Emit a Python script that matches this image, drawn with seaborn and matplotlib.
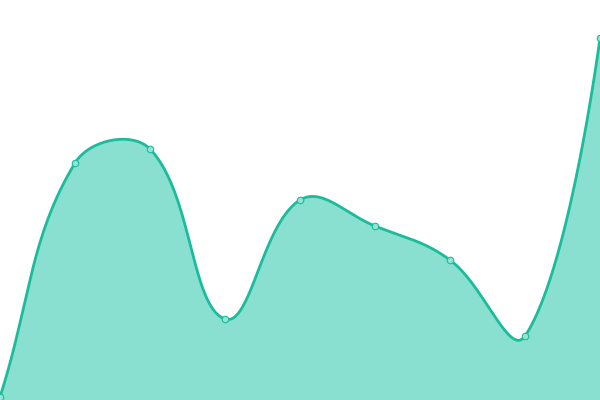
import numpy as np
import pandas as pd
import seaborn as sns
import matplotlib
matplotlib.use("Agg")
import matplotlib.pyplot as plt

# values (axis 0..400, one point per step)
steps = [0, 1, 2, 3, 4, 5, 6, 7, 8]
values = [3, 237, 251, 81, 200, 174, 140, 64, 362]

LINE = "#1abc9c"
FILL = "#89e0d0"


def smooth_path(xs, ys, smooth=0.5, n=60, sx=75.0, sy=1.0):
    # echarts-like bezier smoothing, distances measured in pixel space
    px = np.asarray(xs, float) * sx
    py = np.asarray(ys, float) * sy
    k = len(px)
    cp_in, cp_out = [], []
    for i in range(k):
        prev_i = max(i - 1, 0)
        next_i = min(i + 1, k - 1)
        if i == k - 1:
            v = np.zeros(2)
        else:
            v = np.array([px[next_i] - px[prev_i], py[next_i] - py[prev_i]]) * smooth
        d0 = np.hypot(px[i] - px[prev_i], py[i] - py[prev_i])
        d1 = np.hypot(px[next_i] - px[i], py[next_i] - py[i])
        tot = d0 + d1 if d0 + d1 > 0 else 1.0
        p = np.array([px[i], py[i]])
        cp_in.append(p - v * d0 / tot)
        cp_out.append(p + v * d1 / tot)
    t = np.linspace(0, 1, n)[:, None]
    pts = []
    for i in range(k - 1):
        p0 = np.array([px[i], py[i]])
        p3 = np.array([px[i + 1], py[i + 1]])
        p1, p2 = cp_out[i], cp_in[i + 1]
        seg = ((1 - t) ** 3) * p0 + 3 * ((1 - t) ** 2) * t * p1 + 3 * (1 - t) * t ** 2 * p2 + t ** 3 * p3
        pts.append(seg if i == 0 else seg[1:])
    pts = np.vstack(pts)
    return pts[:, 0] / sx, pts[:, 1] / sy


sns.set_theme(style="white")

fig = plt.figure(figsize=(6, 4), dpi=100)
ax = fig.add_axes([0, 0, 1, 1])

cx, cy = smooth_path(steps, values, smooth=0.4)
curve = pd.DataFrame({"x": cx, "y": cy})
ax.fill_between(cx, cy, 0, color=FILL, lw=0, zorder=1)
sns.lineplot(data=curve, x="x", y="y", sort=False, estimator=None,
             color=LINE, lw=2.0, ax=ax, zorder=2)

pts = pd.DataFrame({"x": steps, "y": values})
sns.scatterplot(data=pts, x="x", y="y", s=22, color="#95e3d4",
                edgecolor=LINE, linewidth=0.8, ax=ax, zorder=3, clip_on=False)

ax.set_xlim(0, 8)
ax.set_ylim(0, 400)
ax.axis("off")

fig.savefig("out.png", dpi=100)
